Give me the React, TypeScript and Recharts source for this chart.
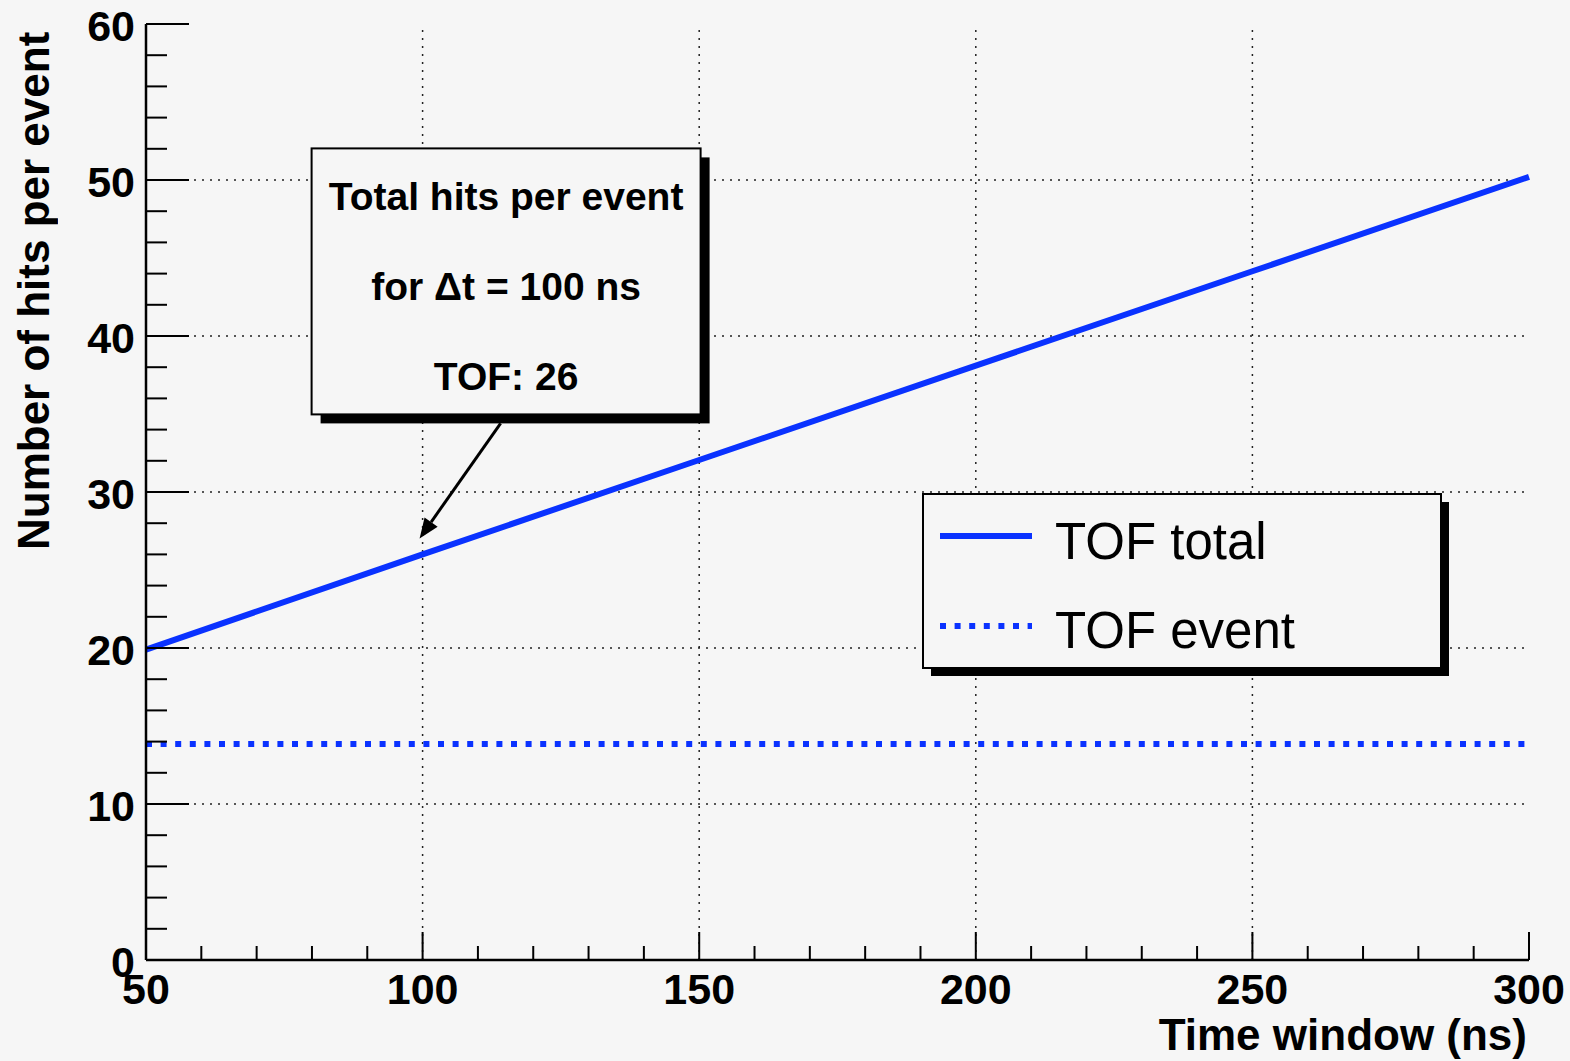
import React from 'react';
import { LineChart, Line, XAxis, YAxis, ReferenceLine, ReferenceDot, Legend } from 'recharts';

// values
const timeWindow = [50, 100, 150, 200, 250, 300];
const tofTotal = [19.9, 26.0, 32.05, 38.1, 44.15, 50.2];
const tofEvent = [13.85, 13.85, 13.85, 13.85, 13.85, 13.85];

const xTicks = [50, 60, 70, 80, 90, 100, 110, 120, 130, 140, 150, 160, 170, 180, 190, 200, 210, 220, 230, 240, 250, 260, 270, 280, 290, 300];
const yTicks = [0, 2, 4, 6, 8, 10, 12, 14, 16, 18, 20, 22, 24, 26, 28, 30, 32, 34, 36, 38, 40, 42, 44, 46, 48, 50, 52, 54, 56, 58, 60];
const xGrid = [100, 150, 200, 250];
const yGrid = [10, 20, 30, 40, 50];

const annotationLines = ['Total hits per event', 'for \u0394t = 100 ns', 'TOF: 26'];
const legendItems = [
  { name: 'TOF total', dash: undefined },
  { name: 'TOF event', dash: '6 8.6' },
];

const data = timeWindow.map((t, i) => ({ t, total: tofTotal[i], event: tofEvent[i] }));

const FONT = '"Liberation Sans", Arial, Helvetica, sans-serif';
const BLUE = '#0a32ff';
const BG = '#f6f6f6';

const BottomTick = (props: any) => {
  const { x, y, payload } = props;
  const major = payload.value % 50 === 0;
  return (
    <g>
      <line x1={x} x2={x} y1={y} y2={y - (major ? 28 : 14)} stroke="#000" strokeWidth={2} />
      {major && (
        <text x={x} y={y + 29} textAnchor="middle" dominantBaseline="central"
          fontFamily={FONT} fontWeight="bold" fontSize={43} fill="#000">
          {payload.value}
        </text>
      )}
    </g>
  );
};

const TopTick = (props: any) => {
  const { x, y, payload } = props;
  const major = payload.value % 50 === 0;
  return <line x1={x} x2={x} y1={y} y2={y + (major ? 28 : 14)} stroke="#000" strokeWidth={2} />;
};

const LeftTick = (props: any) => {
  const { x, y, payload } = props;
  const major = payload.value % 10 === 0;
  return (
    <g>
      <line x1={x} x2={x + (major ? 43 : 21)} y1={y} y2={y} stroke="#000" strokeWidth={2} />
      {major && (
        <text x={x - 11} y={y + 2} textAnchor="end" dominantBaseline="central"
          fontFamily={FONT} fontWeight="bold" fontSize={43} fill="#000">
          {payload.value}
        </text>
      )}
    </g>
  );
};

const RightTick = (props: any) => {
  const { x, y, payload } = props;
  const major = payload.value % 10 === 0;
  return <line x1={x} x2={x - (major ? 44 : 21)} y1={y} y2={y} stroke="#000" strokeWidth={2} />;
};

// text box with shadow and arrow pointing at the TOF total line at 100 ns
const Annotation = (props: any) => {
  const { cx, cy } = props;
  const tipX = cx - 3;
  const tipY = cy - 16;
  const startX = cx + 78;
  const startY = cy - 131;
  const dx = tipX - startX;
  const dy = tipY - startY;
  const len = Math.sqrt(dx * dx + dy * dy);
  const ux = dx / len;
  const uy = dy / len;
  const hl = 20;
  const hw = 8;
  const bx = tipX - ux * hl;
  const by = tipY - uy * hl;
  const boxX = cx - 111;
  const boxY = cy - 406;
  const boxW = 389;
  const boxH = 266;
  return (
    <g>
      <line x1={startX} y1={startY} x2={bx} y2={by} stroke="#000" strokeWidth={3} />
      <polygon
        points={`${tipX},${tipY} ${bx - uy * hw},${by + ux * hw} ${bx + uy * hw},${by - ux * hw}`}
        fill="#000"
      />
      <rect x={boxX + 9} y={boxY + 9} width={boxW} height={boxH} fill="#000" />
      <rect x={boxX} y={boxY} width={boxW} height={boxH} fill={BG} stroke="#000" strokeWidth={2} />
      {annotationLines.map((s, i) => (
        <text key={s} x={boxX + boxW / 2} y={boxY + 48 + i * 90} textAnchor="middle" dominantBaseline="central"
          fontFamily={FONT} fontWeight="bold" fontSize={39} fill="#000">
          {s}
        </text>
      ))}
    </g>
  );
};

const LegendBox = () => (
  <svg width={530} height={185} style={{ display: 'block' }}>
    <rect x={9} y={9} width={518} height={174} fill="#000" />
    <rect x={1} y={1} width={518} height={174} fill={BG} stroke="#000" strokeWidth={2} />
    {legendItems.map((it, i) => (
      <g key={it.name}>
        <line x1={18} x2={110} y1={43 + i * 90} y2={43 + i * 90} stroke={BLUE} strokeWidth={6}
          strokeDasharray={it.dash} />
        <text x={133} y={48 + i * 89} dominantBaseline="central" fontFamily={FONT} fontSize={51} fill="#000">
          {it.name}
        </text>
      </g>
    ))}
  </svg>
);

export default function App() {
  return (
    <div style={{ position: 'absolute', left: 0, top: 0, width: 1570, height: 1061, background: BG }}>
      <LineChart width={1570} height={1061} data={data} margin={{ top: 24, right: 41, left: 0, bottom: 0 }}>
        {xGrid.map(v => (
          <ReferenceLine key={'x' + v} x={v} stroke="#222" strokeWidth={1.5} strokeDasharray="2 6" />
        ))}
        {yGrid.map(v => (
          <ReferenceLine key={'y' + v} y={v} stroke="#222" strokeWidth={1.5} strokeDasharray="2 6" />
        ))}
        <XAxis dataKey="t" type="number" domain={[50, 300]} ticks={xTicks} interval={0} height={101}
          tickSize={0} tickMargin={0} tickLine={false} tick={BottomTick}
          axisLine={{ stroke: '#000', strokeWidth: 2.5 }} />
        <XAxis xAxisId="top" dataKey="t" type="number" domain={[50, 300]} ticks={xTicks} interval={0}
          orientation="top" height={0} tickSize={0} tickMargin={0} tickLine={false} tick={TopTick}
          axisLine={{ stroke: '#000', strokeWidth: 2.5 }} />
        <YAxis type="number" domain={[0, 60]} ticks={yTicks} interval={0} width={146}
          tickSize={0} tickMargin={0} tickLine={false} tick={LeftTick}
          axisLine={{ stroke: '#000', strokeWidth: 2.5 }} />
        <YAxis yAxisId="right" type="number" domain={[0, 60]} ticks={yTicks} interval={0} width={0}
          orientation="right" tickSize={0} tickMargin={0} tickLine={false} tick={RightTick}
          axisLine={{ stroke: '#000', strokeWidth: 2.5 }} />
        <Line type="linear" dataKey="event" name="TOF event" stroke={BLUE} strokeWidth={6}
          strokeDasharray="6 8.6" dot={false} isAnimationActive={false} />
        <Line type="linear" dataKey="total" name="TOF total" stroke={BLUE} strokeWidth={6}
          dot={false} isAnimationActive={false} />
        <ReferenceDot x={100} y={26} r={0} shape={Annotation} />
        <Legend layout="horizontal" verticalAlign="middle" align="center"
          wrapperStyle={{ left: 922, top: 493, width: 530, height: 185 }}
          content={() => <LegendBox />} />
      </LineChart>
      <div style={{
        position: 'absolute', left: 1100, top: 1013, width: 427, textAlign: 'right',
        fontFamily: FONT, fontWeight: 'bold', fontSize: 44, lineHeight: '44px', whiteSpace: 'nowrap'
      }}>
        Time window (ns)
      </div>
      <div style={{
        position: 'absolute', left: 9, top: 25, width: 50, height: 525,
        display: 'flex', alignItems: 'flex-start', justifyContent: 'center'
      }}>
        <div style={{
          writingMode: 'vertical-rl', transform: 'rotate(180deg)', fontFamily: FONT, fontWeight: 'bold',
          fontSize: 44, lineHeight: '50px', whiteSpace: 'nowrap', height: 525, textAlign: 'left'
        }}>
          Number of hits per event
        </div>
      </div>
    </div>
  );
}
